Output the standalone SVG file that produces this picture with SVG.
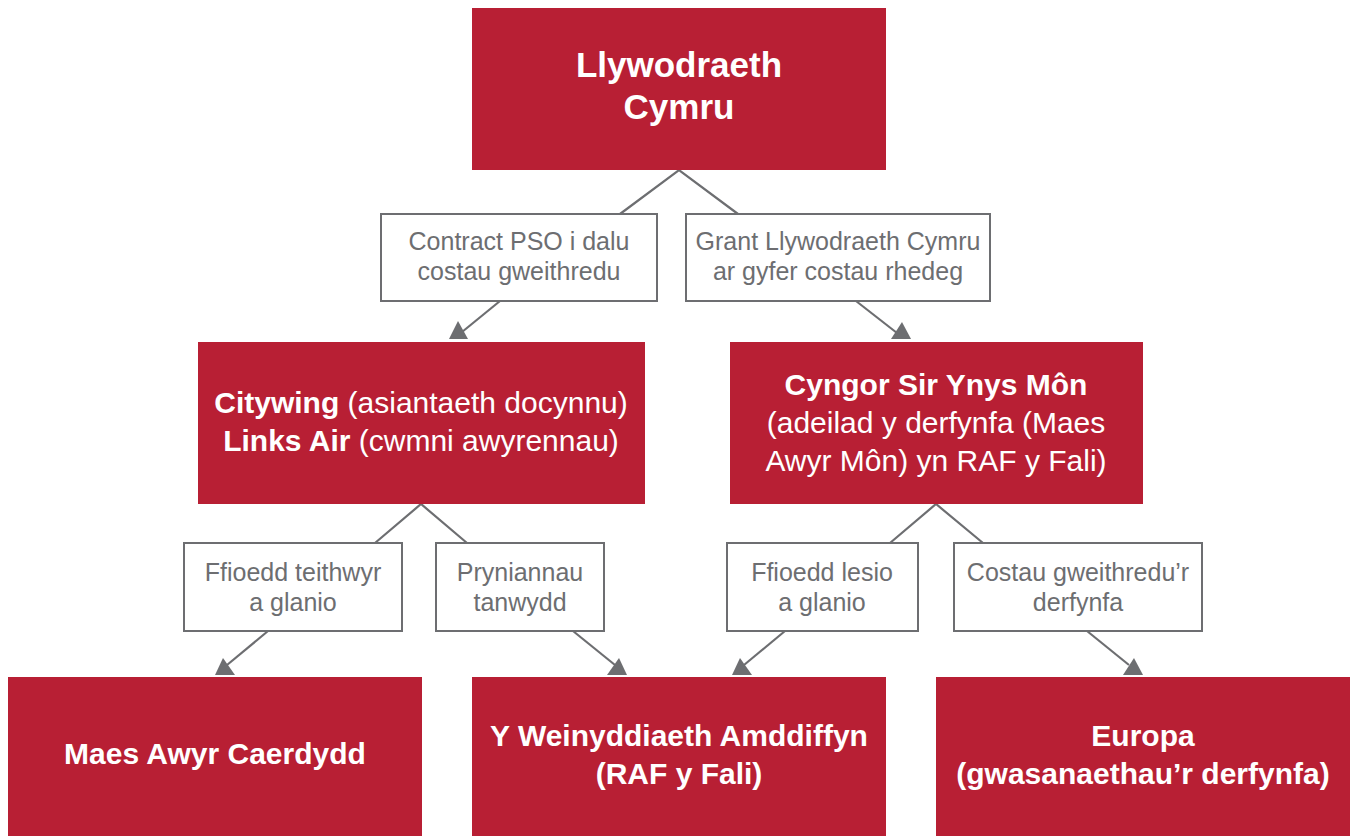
<svg xmlns="http://www.w3.org/2000/svg" width="1354" height="836" viewBox="0 0 1354 836">
<style>
.red{fill:#B81F34}
.lbl{fill:#FFFFFF;stroke:#6D6E71;stroke-width:2}
.wt{fill:#FFFFFF;font-family:"Liberation Sans",Arial,sans-serif;text-anchor:middle}
.b{font-weight:bold}
.gt{fill:#6D6E71;font-family:"Liberation Sans",Arial,sans-serif;font-size:25px;text-anchor:middle}
.ln{stroke:#6D6E71;stroke-width:2.2;fill:none}
.ah{fill:#6D6E71}
</style>
<rect width="1354" height="836" fill="#FFFFFF"/>
<g id="connectors">
<polyline class="ln" points="620,214 679,170 738,214"/>
<polyline class="ln" points="375,543 421,504 467,543"/>
<polyline class="ln" points="890,543 936,504 983,543"/>
<line class="ln" x1="500" y1="301" x2="462" y2="332"/>
<polygon class="ah" points="449,339 468,339 458,321"/>
<line class="ln" x1="856" y1="301" x2="897" y2="333"/>
<polygon class="ah" points="891,339 911,339 902,322"/>
<line class="ln" x1="268" y1="631" x2="227" y2="665"/>
<polygon class="ah" points="215,675 235,675 223,658"/>
<line class="ln" x1="573" y1="631" x2="615" y2="665"/>
<polygon class="ah" points="607,675 627,675 619,658"/>
<line class="ln" x1="785" y1="631" x2="744" y2="665"/>
<polygon class="ah" points="732,675 752,675 740,658"/>
<line class="ln" x1="1087" y1="631" x2="1129" y2="665"/>
<polygon class="ah" points="1123,675 1143,675 1134,658"/>
</g>
<g id="n-llywodraeth">
<rect class="red" x="472" y="8" width="414" height="162"/>
<text class="wt b" font-size="35" x="679" y="77">Llywodraeth</text>
<text class="wt b" font-size="35" x="679" y="119">Cymru</text>
</g>
<g id="l-contract">
<rect class="lbl" x="381" y="214" width="276" height="87"/>
<text class="gt" x="519" y="250">Contract PSO i dalu</text>
<text class="gt" x="519" y="280">costau gweithredu</text>
</g>
<g id="l-grant">
<rect class="lbl" x="686" y="214" width="304" height="87"/>
<text class="gt" x="838" y="250">Grant Llywodraeth Cymru</text>
<text class="gt" x="838" y="280">ar gyfer costau rhedeg</text>
</g>
<g id="n-citywing">
<rect class="red" x="198" y="342" width="447" height="162"/>
<text class="wt" font-size="30" x="421" y="413"><tspan font-weight="bold">Citywing</tspan> (asiantaeth docynnu)</text>
<text class="wt" font-size="30" x="421" y="451"><tspan font-weight="bold">Links Air</tspan> (cwmni awyrennau)</text>
</g>
<g id="n-cyngor">
<rect class="red" x="730" y="342" width="413" height="162"/>
<text class="wt b" font-size="30" x="936" y="395">Cyngor Sir Ynys Môn</text>
<text class="wt" font-size="30" x="936" y="433">(adeilad y derfynfa (Maes</text>
<text class="wt" font-size="30" x="936" y="471">Awyr Môn) yn RAF y Fali)</text>
</g>
<g id="l-ffioedd-teithwyr">
<rect class="lbl" x="184" y="543" width="218" height="88"/>
<text class="gt" x="293" y="581">Ffioedd teithwyr</text>
<text class="gt" x="293" y="611">a glanio</text>
</g>
<g id="l-pryniannau">
<rect class="lbl" x="436" y="543" width="168" height="88"/>
<text class="gt" x="520" y="581">Pryniannau</text>
<text class="gt" x="520" y="611">tanwydd</text>
</g>
<g id="l-ffioedd-lesio">
<rect class="lbl" x="727" y="543" width="191" height="88"/>
<text class="gt" x="822" y="581">Ffioedd lesio</text>
<text class="gt" x="822" y="611">a glanio</text>
</g>
<g id="l-costau">
<rect class="lbl" x="954" y="543" width="248" height="88"/>
<text class="gt" x="1078" y="581">Costau gweithredu’r</text>
<text class="gt" x="1078" y="611">derfynfa</text>
</g>
<g id="n-caerdydd">
<rect class="red" x="8" y="677" width="414" height="159"/>
<text class="wt b" font-size="30" x="215" y="764">Maes Awyr Caerdydd</text>
</g>
<g id="n-weinyddiaeth">
<rect class="red" x="472" y="677" width="414" height="159"/>
<text class="wt b" font-size="30" x="679" y="746">Y Weinyddiaeth Amddiffyn</text>
<text class="wt b" font-size="30" x="679" y="784">(RAF y Fali)</text>
</g>
<g id="n-europa">
<rect class="red" x="936" y="677" width="414" height="159"/>
<text class="wt b" font-size="30" x="1143" y="746">Europa</text>
<text class="wt b" font-size="30" x="1143" y="784">(gwasanaethau’r derfynfa)</text>
</g>
</svg>
